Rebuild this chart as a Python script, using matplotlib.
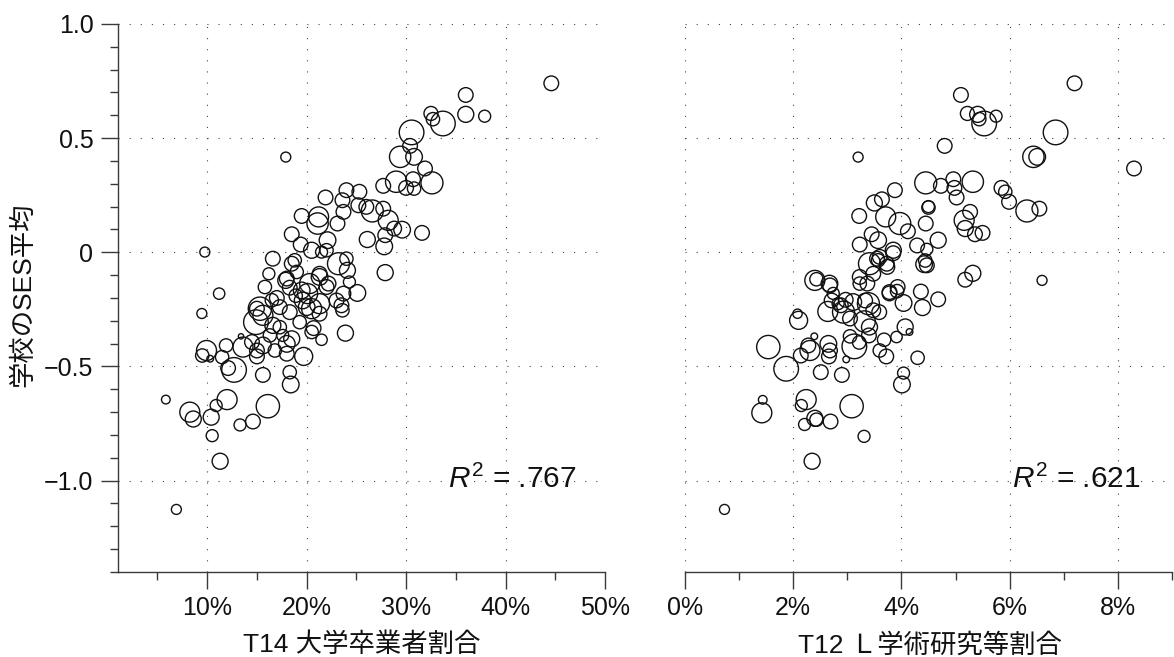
import matplotlib
matplotlib.use('Agg')
import matplotlib.pyplot as plt
import numpy as np
from matplotlib.ticker import MultipleLocator, FixedLocator, FuncFormatter

plt.rcParams['font.family'] = ['Liberation Sans', 'Noto Sans CJK JP', 'DejaVu Sans']
plt.rcParams['mathtext.fontset'] = 'custom'
plt.rcParams['mathtext.rm'] = 'Liberation Sans'
plt.rcParams['mathtext.it'] = 'Liberation Sans:italic'

# ---------------- data ----------------
# Left panel: share of university graduates (%) vs. school mean SES, bubble = school size
univ_pct = [44.6, 36.0, 32.5, 32.7, 33.7, 36.0, 37.9, 30.55, 30.4, 29.4, 30.8, 17.9, 31.9, 29.0, 32.6,
            30.7, 30.0, 30.8, 27.7, 21.9, 24.0, 25.3, 23.6, 25.2, 26.0, 26.6, 27.7, 28.2, 29.6, 28.8,
            31.6, 27.9, 26.1, 27.8, 19.5, 21.2, 21.1, 23.1, 23.7, 18.5, 19.4, 20.5, 22.1, 22.0, 21.5,
            9.76, 27.9, 16.6, 23.2, 24.0, 24.1, 18.5, 18.8, 16.2, 21.3, 19.0, 11.2, 25.1, 9.46, 15.8,
            17.9, 20.3, 21.3, 22.0, 24.3, 23.7, 23.6, 23.9, 21.5, 20.7, 19.7, 18.3, 18.4, 15.6, 12.7,
            12.1, 11.9, 11.5, 9.93, 9.5, 10.3, 13.4, 13.6, 14.5, 15.0, 15.0, 15.6, 16.8, 18.0, 18.5,
            16.3, 17.6, 15.3, 14.9, 15.6, 15.0, 16.6, 18.3, 19.3, 20.5, 20.5, 21.3, 19.6, 23.0, 19.5,
            18.9, 17.0, 16.5, 18.3, 18.0, 20.1, 22.2, 23.5, 17.3, 20.0, 18.0, 17.3, 21.3, 5.84, 8.25,
            8.6, 10.4, 10.9, 12.0, 10.5, 16.1, 13.3, 14.6, 11.3, 6.9]
univ_ses = [0.740, 0.689, 0.608, 0.583, 0.564, 0.604, 0.596, 0.525, 0.466, 0.418, 0.418, 0.417, 0.367, 0.309, 0.304,
            0.320, 0.282, 0.279, 0.291, 0.240, 0.272, 0.265, 0.228, 0.206, 0.199, 0.181, 0.191, 0.140, 0.099, 0.104,
            0.085, 0.075, 0.056, 0.026, 0.159, 0.155, 0.126, 0.126, 0.177, 0.079, 0.034, 0.009, 0.053, 0.009, 0.001,
            0.001, -0.089, -0.028, -0.050, -0.028, -0.079, -0.050, -0.035, -0.094, -0.094, -0.086, -0.181, -0.178, -0.268, -0.152,
            -0.123, -0.137, -0.108, -0.152, -0.130, -0.181, -0.254, -0.354, -0.383, -0.332, -0.456, -0.525, -0.579, -0.537, -0.515,
            -0.507, -0.408, -0.459, -0.430, -0.452, -0.466, -0.368, -0.415, -0.393, -0.430, -0.456, -0.408, -0.430, -0.444, -0.379,
            -0.364, -0.364, -0.247, -0.306, -0.276, -0.247, -0.320, -0.262, -0.306, -0.349, -0.247, -0.225, -0.211, -0.211, -0.167,
            -0.190, -0.200, -0.210, -0.155, -0.115, -0.181, -0.137, -0.232, -0.240, -0.240, -0.401, -0.328, -0.269, -0.645, -0.700,
            -0.730, -0.722, -0.671, -0.645, -0.803, -0.674, -0.756, -0.741, -0.915, -1.126]
univ_n = [242, 242, 220, 200, 684, 288, 162, 684, 242, 512, 312, 112, 242, 512, 545,
          242, 242, 200, 242, 242, 242, 242, 242, 242, 242, 545, 242, 450, 312, 242,
          242, 242, 288, 312, 242, 450, 512, 242, 242, 242, 242, 288, 312, 200, 162,
          112, 288, 242, 545, 200, 288, 242, 200, 162, 242, 200, 145, 312, 112, 200,
          288, 450, 312, 242, 162, 242, 200, 288, 145, 242, 365, 200, 312, 242, 684,
          242, 200, 200, 450, 200, 50, 32, 450, 242, 242, 242, 312, 200, 242, 288,
          200, 162, 612, 684, 450, 242, 288, 242, 200, 200, 450, 450, 312, 242, 312,
          200, 242, 200, 242, 242, 450, 242, 242, 242, 312, 312, 200, 242, 85, 450,
          288, 288, 162, 450, 162, 612, 162, 242, 288, 112]

# Right panel: share of "L academic research" workers (%) vs. school mean SES
res_pct = [7.20, 5.10, 5.22, 5.41, 5.44, 5.53, 5.75, 6.85, 4.80, 3.20, 6.44, 6.51, 8.30, 4.45, 5.32,
           4.96, 4.73, 4.98, 5.02, 5.85, 5.92, 5.99, 6.32, 6.55, 3.88, 3.50, 3.64, 3.22, 3.71, 3.97,
           4.12, 4.50, 4.50, 4.45, 5.27, 5.16, 5.18, 5.36, 5.50, 4.68, 3.45, 3.57, 3.23, 3.85, 4.29,
           4.47, 2.40, 2.43, 2.67, 2.74, 2.97, 3.23, 3.23, 3.41, 3.57, 3.74, 3.73, 3.48, 3.55, 3.37,
           3.92, 3.78, 4.44, 4.42, 4.47, 4.36, 4.68, 4.04, 4.39, 5.18, 5.32, 6.60, 2.08, 2.10, 1.54,
           1.87, 2.14, 2.28, 2.31, 2.39, 2.51, 2.65, 2.68, 2.66, 2.90, 2.98, 3.05, 3.13, 3.22, 3.40,
           3.60, 3.72, 3.68, 3.91, 4.07, 4.15, 4.30, 4.04, 4.01, 3.32, 3.41, 3.05, 2.93, 2.64, 2.88,
           2.83, 2.71, 3.11, 3.33, 3.39, 3.48, 3.59, 3.78, 3.93, 2.68, 3.60, 3.85, 1.437, 1.42, 2.24,
           2.15, 2.21, 2.40, 2.43, 2.69, 3.08, 3.31, 2.35, 0.73]
res_ses = [0.740, 0.689, 0.608, 0.604, 0.583, 0.564, 0.596, 0.525, 0.466, 0.417, 0.418, 0.418, 0.367, 0.304, 0.309,
           0.320, 0.291, 0.282, 0.240, 0.282, 0.265, 0.221, 0.181, 0.191, 0.272, 0.216, 0.232, 0.159, 0.155, 0.126,
           0.092, 0.196, 0.200, 0.126, 0.177, 0.140, 0.104, 0.079, 0.085, 0.053, 0.079, 0.053, 0.034, 0.009, 0.030,
           0.013, -0.123, -0.118, -0.137, -0.180, -0.208, -0.108, -0.137, -0.050, -0.035, -0.064, -0.050, -0.094, -0.028, -0.137,
           -0.170, -0.180, -0.036, -0.052, -0.057, -0.172, -0.206, -0.222, -0.242, -0.120, -0.092, -0.123, -0.269, -0.298, -0.415,
           -0.510, -0.452, -0.408, -0.430, -0.368, -0.525, -0.401, -0.430, -0.456, -0.537, -0.469, -0.368, -0.412, -0.395, -0.364,
           -0.430, -0.456, -0.383, -0.371, -0.327, -0.349, -0.462, -0.529, -0.579, -0.303, -0.327, -0.290, -0.262, -0.259, -0.232,
           -0.225, -0.211, -0.218, -0.211, -0.225, -0.254, -0.262, -0.174, -0.152, -0.145, -0.020, -0.004, -0.646, -0.703, -0.645,
           -0.671, -0.754, -0.727, -0.733, -0.741, -0.674, -0.806, -0.915, -1.126]
res_n = [242, 242, 220, 288, 200, 684, 162, 684, 242, 112, 512, 312, 242, 545, 512,
         242, 242, 242, 242, 242, 200, 242, 545, 242, 242, 288, 242, 242, 450, 545,
         242, 200, 162, 242, 242, 450, 288, 242, 242, 288, 242, 312, 242, 288, 242,
         162, 450, 200, 312, 162, 242, 242, 200, 545, 200, 242, 242, 242, 242, 242,
         200, 242, 200, 312, 242, 242, 242, 312, 288, 242, 288, 112, 98, 365, 612,
         684, 242, 242, 450, 50, 242, 312, 242, 242, 242, 50, 200, 684, 200, 242,
         200, 242, 200, 145, 288, 50, 200, 162, 312, 512, 288, 242, 545, 450, 242,
         162, 242, 312, 242, 545, 242, 242, 242, 242, 242, 242, 242, 85, 450, 450,
         162, 162, 288, 200, 242, 612, 162, 288, 112]

r2_univ = ".767"
r2_res = ".621"
ses_ticks = [-1.0, -0.5, 0.0, 0.5, 1.0]
ses_labels = ["\u22121.0", "\u22120.5", "0", "0.5", "1.0"]
xlabel_univ = "T14 大学卒業者割合"
xlabel_res = "T12 Ｌ学術研究等割合"
ylabel = "学校のSES平均"

# ---------------- figure ----------------
W, H, DPI = 1174, 657, 100
fig = plt.figure(figsize=(W / DPI, H / DPI), dpi=DPI)
bottom_px, top_px = 572, 18
axL = fig.add_axes([117.7 / W, (H - bottom_px) / H, (605 - 117.7) / W, (bottom_px - top_px) / H])
axR = fig.add_axes([685 / W, (H - bottom_px) / H, (1174 - 685) / W, (bottom_px - top_px) / H])

AREA = 0.46  # points^2 per student
edge = '#111111'
axcol = '#3a3a3a'
txt = '#111111'
grid_kw = dict(color='#444444', linewidth=0.8, linestyle=(0, (1, 9)))

def style(ax):
    for s in ['top', 'right']:
        ax.spines[s].set_visible(False)
    ax.spines['bottom'].set_color(axcol)
    ax.spines['bottom'].set_linewidth(1.0)
    ax.spines['left'].set_color(axcol)
    ax.spines['left'].set_linewidth(1.0)
    ax.tick_params(which='major', direction='out', length=12, width=1.0, color=axcol,
                   labelsize=18, pad=5.5, labelcolor=txt)
    ax.tick_params(which='minor', direction='out', length=6, width=1.0, color=axcol)
    ax.set_ylim(-1.4, 1.026)
    ax.set_facecolor('none')

# left panel
axL.scatter(univ_pct, univ_ses, s=np.array(univ_n) * AREA, facecolors='none',
            edgecolors=edge, linewidths=1.0, zorder=3)
style(axL)
axL.set_xlim(1.0, 50.0)
axL.xaxis.set_major_locator(FixedLocator([10, 20, 30, 40, 50]))
axL.xaxis.set_minor_locator(FixedLocator([5, 15, 25, 35, 45]))
axL.xaxis.set_major_formatter(FuncFormatter(lambda v, p: f"{int(round(v))}%"))
axL.yaxis.set_major_locator(FixedLocator(ses_ticks))
axL.yaxis.set_major_formatter(FuncFormatter(lambda v, p: ses_labels[ses_ticks.index(round(v, 1))] if round(v, 1) in ses_ticks else ""))
axL.yaxis.set_minor_locator(MultipleLocator(0.1))
axL.spines['left'].set_bounds(-1.4, 1.0)
for xv in [10, 20, 30, 40, 50]:
    axL.axvline(xv, zorder=1, **grid_kw)
for yv in ses_ticks:
    axL.axhline(yv, zorder=1, **grid_kw)
axL.set_xlabel(xlabel_univ, fontsize=19, labelpad=9, color=txt)
axL.set_ylabel(ylabel, fontsize=19, labelpad=6, color=txt)
axL.text(47.1, -1.03, r"$R^2$ = " + r2_univ, ha='right', va='baseline', fontsize=21.5, color=txt)

# right panel
axR.scatter(res_pct, res_ses, s=np.array(res_n) * AREA, facecolors='none',
            edgecolors=edge, linewidths=1.0, zorder=3)
style(axR)
axR.spines['left'].set_visible(False)
axR.tick_params(axis='y', which='both', left=False, labelleft=False)
axR.set_xlim(0.0, (1174 - 685) / 54.1)
axR.xaxis.set_major_locator(FixedLocator([0, 2, 4, 6, 8]))
axR.xaxis.set_minor_locator(FixedLocator([1, 3, 5, 7, 9]))
axR.xaxis.set_major_formatter(FuncFormatter(lambda v, p: f"{int(round(v))}%"))
axR.spines['bottom'].set_bounds(0, 9)
for xv in [0, 2, 4, 6, 8]:
    axR.axvline(xv, zorder=1, **grid_kw)
for yv in ses_ticks:
    axR.axhline(yv, zorder=1, **grid_kw)
axR.set_xlabel(xlabel_res, fontsize=19, labelpad=9, color=txt)
axR.text(8.43, -1.03, r"$R^2$ = " + r2_res, ha='right', va='baseline', fontsize=21.5, color=txt)

fig.savefig('out.png', dpi=DPI)
